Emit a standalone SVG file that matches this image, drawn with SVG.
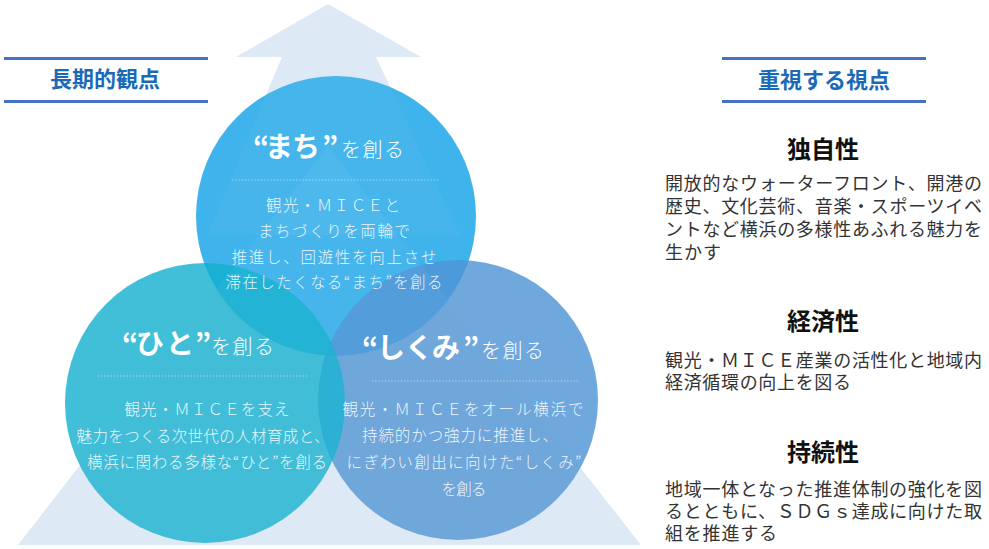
<svg xmlns="http://www.w3.org/2000/svg" width="989" height="549" viewBox="0 0 989 549">
<defs>
<style>
text{font-family:"Noto Sans CJK JP","Noto Sans",sans-serif}
.h{font-weight:700;font-size:22px;fill:#1a6ab8;text-anchor:middle}
.hl{fill:#4472c4}
.bg{fill:#dce8f5}
.ov{fill:#ffffff;opacity:.045}
.ct{font-weight:700;font-size:28px;fill:#fff}
.cs{font-weight:300;font-size:20px;fill:#fff;letter-spacing:1.5px}
.cb{font-weight:300;font-size:15.5px;fill:#fff;fill-opacity:.9;text-anchor:middle}
.dot{stroke:#fff;stroke-opacity:.6;stroke-width:1.2;stroke-dasharray:1.2 2}
.st{font-weight:700;font-size:24px;fill:#111;text-anchor:middle}
.sb{font-size:18px;fill:#333}
</style>
</defs>
<g id="background">
<polygon class="bg" points="328,4 421,57 376,57 460,235 207,235 282,57 236,57"/>
<polygon class="bg" points="328,146 641,545 18,545"/>
</g>
<g id="headings">
<g id="h-left">
<rect class="hl" x="4" y="57" width="204" height="3"/>
<rect class="hl" x="4" y="100" width="204" height="3"/>
<text class="h" x="105" y="87">長期的観点</text>
</g>
<g id="h-right">
<rect class="hl" x="722" y="57" width="204" height="3"/>
<rect class="hl" x="722" y="100" width="204" height="3"/>
<text class="h" x="824" y="88">重視する視点</text>
</g>
</g>
<g id="circles">
<circle id="c-machi" cx="336" cy="216" r="140" fill="rgb(47,173,234)" opacity=".92"/>
<circle id="c-shikumi" cx="458" cy="400" r="140" fill="rgb(79,149,212)" opacity=".82"/>
<circle id="c-hito" cx="205" cy="403" r="140" fill="rgb(17,175,206)" opacity=".8"/>
</g>
<g id="overlay">
<polygon class="ov" points="328,4 421,57 376,57 460,235 207,235 282,57 236,57"/>
<polygon class="ov" points="328,146 641,545 18,545"/>
</g>
<g id="node-machi">
<text class="ct" x="253 265 292 322" y="157">“まち”</text>
<text class="cs" x="341" y="157">を創る</text>
<line class="dot" x1="232" y1="180" x2="440" y2="180"/>
<text class="cb" x="333" y="211" textLength="134" lengthAdjust="spacing">観光・ＭＩＣＥと</text>
<text class="cb" x="334" y="237" textLength="152" lengthAdjust="spacing">まちづくりを両輪で</text>
<text class="cb" x="334" y="263" textLength="205" lengthAdjust="spacing">推進し、回遊性を向上させ</text>
<text class="cb" x="334" y="288" textLength="217" lengthAdjust="spacing">滞在したくなる“まち”を創る</text>
</g>
<g id="node-hito">
<text class="ct" x="122 136 166 195" y="354">“ひと”</text>
<text class="cs" x="211" y="354">を創る</text>
<line class="dot" x1="98" y1="376" x2="307" y2="376"/>
<text class="cb" x="207" y="415" textLength="165" lengthAdjust="spacing">観光・ＭＩＣＥを支え</text>
<text class="cb" x="203" y="442" textLength="253" lengthAdjust="spacing">魅力をつくる次世代の人材育成と、</text>
<text class="cb" x="207" y="468" textLength="240" lengthAdjust="spacing">横浜に関わる多様な“ひと”を創る</text>
</g>
<g id="node-shikumi">
<text class="ct" x="362 377 405 432 463" y="358">“しくみ”</text>
<text class="cs" x="481" y="358">を創る</text>
<line class="dot" x1="372" y1="381" x2="580" y2="381"/>
<text class="cb" x="463" y="415" textLength="241" lengthAdjust="spacing">観光・ＭＩＣＥをオール横浜で</text>
<text class="cb" x="460" y="441" textLength="196" lengthAdjust="spacing">持続的かつ強力に推進し、</text>
<text class="cb" x="464" y="468" textLength="235" lengthAdjust="spacing">にぎわい創出に向けた“しくみ”</text>
<text class="cb" x="464" y="495" textLength="45" lengthAdjust="spacing">を創る</text>
</g>
<g id="view-dokuji">
<text class="st" x="823" y="158">独自性</text>
<text class="sb" x="665" y="190" textLength="317" lengthAdjust="spacing">開放的なウォーターフロント、開港の</text>
<text class="sb" x="665" y="213" textLength="317" lengthAdjust="spacing">歴史、文化芸術、音楽・スポーツイベ</text>
<text class="sb" x="665" y="236" textLength="317" lengthAdjust="spacing">ントなど横浜の多様性あふれる魅力を</text>
<text class="sb" x="665" y="259" textLength="56" lengthAdjust="spacing">生かす</text>
</g>
<g id="view-keizai">
<text class="st" x="823" y="330">経済性</text>
<text class="sb" x="665" y="367" textLength="317" lengthAdjust="spacing">観光・ＭＩＣＥ産業の活性化と地域内</text>
<text class="sb" x="665" y="389" textLength="186" lengthAdjust="spacing">経済循環の向上を図る</text>
</g>
<g id="view-jizoku">
<text class="st" x="823" y="461">持続性</text>
<text class="sb" x="665" y="496" textLength="317" lengthAdjust="spacing">地域一体となった推進体制の強化を図</text>
<text class="sb" x="665" y="518" textLength="317" lengthAdjust="spacing">るとともに、ＳＤＧｓ達成に向けた取</text>
<text class="sb" x="665" y="540" textLength="112" lengthAdjust="spacing">組を推進する</text>
</g>
</svg>
